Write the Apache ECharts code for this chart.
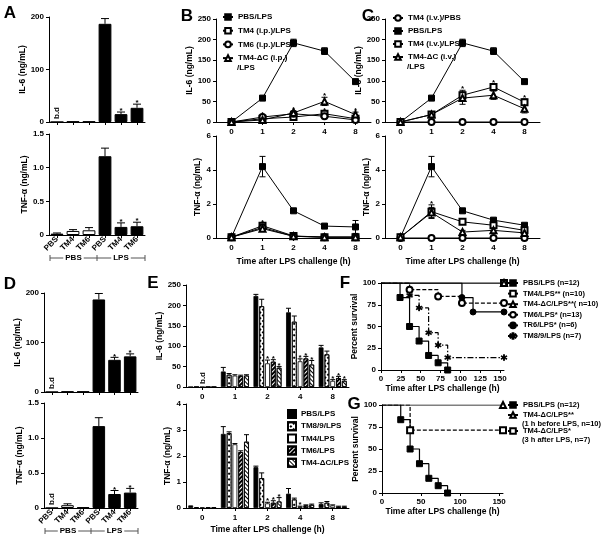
<!DOCTYPE html>
<html><head><meta charset="utf-8">
<script src="https://cdn.jsdelivr.net/npm/echarts@6/dist/echarts.min.js"></script>
<style>html,body{margin:0;padding:0;background:#fff}#c{width:603px;height:540px}</style>
</head><body><div id="c"></div>
<script>
// ================= DATA =================
const adCats = ['PBS','TM4','TM6','PBS','TM4','TM6'];
const adGroups = ['PBS','LPS'];
// Panel A
const aIL6    = [0, 1, 1, 187, 15, 27];
const aIL6Err = [0, 0, 0, 10, 4, 7];
const aIL6Sig = [0, 0, 0, 0, 1, 1];
const aIL6Bd  = [1, 0, 0, 0, 0, 0];
const aTNF    = [0.02, 0.06, 0.07, 1.17, 0.12, 0.13];
const aTNFErr = [0.01, 0.02, 0.04, 0.12, 0.06, 0.06];
const aTNFSig = [0, 0, 0, 0, 1, 1];
// Panel D
const dIL6    = [0, 1, 1, 187, 65, 72];
const dIL6Err = [0, 0, 0, 12, 5, 5];
const dIL6Sig = [0, 0, 0, 0, 1, 1];
const dIL6Bd  = [1, 0, 0, 0, 0, 0];
const dTNF    = [0, 0.04, 0.01, 1.17, 0.2, 0.22];
const dTNFErr = [0, 0.02, 0, 0.12, 0.05, 0.06];
const dTNFSig = [0, 0, 0, 0, 1, 1];
const dTNFBd  = [1, 0, 0, 0, 0, 0];

const timeCats = ['0','1','2','4','8'];
// Panel B
const bNames = ['PBS/LPS','TM4 (i.p.)/LPS','TM6 (i.p.)/LPS','TM4-ΔC (i.p.)\n/LPS'];
const bIL6PBS = [0, 58, 192, 172, 98];   const bIL6PBSErr = [0, 3, 9, 8, 5];
const bIL6TM4 = [0, 8, 12, 20, 8];       const bIL6TM4Err = [0, 2, 3, 4, 2];
const bIL6TM6 = [0, 12, 20, 14, 5];      const bIL6TM6Err = [0, 2, 4, 3, 2];
const bIL6DC  = [0, 5, 22, 50, 18];      const bIL6DCErr  = [0, 2, 4, 10, 6];
const bIL6Sig = [0, 1, 1, 1, 1];
const bTNFPBS = [0.05, 4.2, 1.6, 0.7, 0.65]; const bTNFPBSErr = [0, 0.6, 0.08, 0.1, 0.38];
const bTNFTM4 = [0.05, 0.72, 0.12, 0.05, 0.05]; const bTNFTM4Err = [0, 0.1, 0.03, 0, 0];
const bTNFTM6 = [0.05, 0.62, 0.1, 0.05, 0.05]; const bTNFTM6Err = [0, 0.08, 0.03, 0, 0];
const bTNFDC  = [0.05, 0.55, 0.1, 0.05, 0.05]; const bTNFDCErr  = [0, 0.08, 0.03, 0, 0];
const bTNFSig = [0, 1, 1, 0, 0];
// Panel C
const cNames = ['TM4 (i.v.)/PBS','PBS/LPS','TM4 (i.v.)/LPS','TM4-ΔC (i.v.)\n/LPS'];
const cIL6TPBS = [0, 0, 0, 0, 0];
const cIL6PBS = [0, 58, 192, 172, 98];   const cIL6PBSErr = [0, 3, 9, 8, 5];
const cIL6TM4 = [0, 18, 65, 85, 48];     const cIL6TM4Err = [0, 2, 12, 8, 8];
const cIL6DC  = [0, 18, 58, 65, 32];     const cIL6DCErr  = [0, 2, 15, 10, 10];
const cIL6Sig = [0, 0, 1, 1, 1];
const cTNFTPBS = [0, 0, 0, 0, 0];
const cTNFPBS = [0.05, 4.2, 1.6, 1.05, 0.75]; const cTNFPBSErr = [0, 0.6, 0.08, 0.1, 0.1];
const cTNFTM4 = [0.05, 1.55, 0.95, 0.75, 0.45]; const cTNFTM4Err = [0, 0.4, 0.1, 0.1, 0.1];
const cTNFDC  = [0.05, 1.5, 0.35, 0.45, 0.3]; const cTNFDCErr  = [0, 0.3, 0.1, 0.1, 0.1];
const cTNFSig = [0, 1, 0, 0, 0];
// Panel E
const eNames = ['PBS/LPS','TM8/9/LPS','TM4/LPS','TM6/LPS','TM4-ΔC/LPS'];
const eIL6 = [
  [0, 38, 223, 183, 97],
  [0, 30, 198, 160, 80],
  [0, 28, 58, 63, 15],
  [0, 27, 62, 70, 22],
  [0, 28, 47, 55, 15]];
const eIL6Err = [
  [0, 10, 4, 10, 5],
  [0, 3, 17, 14, 8],
  [0, 2, 8, 6, 3],
  [0, 2, 5, 5, 4],
  [0, 2, 3, 10, 3]];
const eIL6Sig = [
  [0,0,0,0,0],[0,0,0,0,0],[0,0,1,1,1],[0,0,1,1,1],[0,0,1,1,1]];
const eIL6Bd = [1, 0, 0, 0, 0];
const eTNF = [
  [0.1, 2.85, 1.57, 0.55, 0.15],
  [0.03, 2.88, 1.15, 0.33, 0.2],
  [0.02, 2.45, 0.18, 0.05, 0.1],
  [0.02, 2.15, 0.2, 0.1, 0.05],
  [0.02, 2.55, 0.25, 0.12, 0.05]];
const eTNFErr = [
  [0, 0.28, 0.04, 0.2, 0.05],
  [0, 0.05, 0.2, 0.05, 0.05],
  [0, 0.03, 0.04, 0.02, 0.02],
  [0, 0.05, 0.08, 0.02, 0.02],
  [0, 0.27, 0.15, 0.03, 0.02]];
const eTNFSig = [
  [0,0,0,0,0],[0,0,0,0,0],[0,0,1,1,0],[0,0,1,0,0],[0,0,1,0,0]];
// Panel F (Kaplan-Meier)
const fNames = ['PBS/LPS (n=12)','TM4/LPS** (n=10)','TM4-ΔC/LPS**( n=10)','TM6/LPS* (n=13)','TR6/LPS* (n=6)','TM8/9/LPS (n=7)'];
const fPBST = [0, 24, 36, 48, 60, 72, 84];  const fPBSS = [100, 83.3, 50, 33.3, 16.7, 8.3, 0];
const fTM4T = [0, 155];                      const fTM4S = [100, 100];
const fDCT  = [0, 155];                      const fDCS  = [100, 100];
const fTM6T = [0, 36, 72, 102, 155];         const fTM6S = [100, 92.3, 84.6, 76.9, 76.9];
const fTR6T = [0, 102, 116, 155];            const fTR6S = [100, 83.3, 66.7, 66.7];
const fTM89T = [0, 36, 48, 60, 72, 84, 155]; const fTM89S = [100, 85.7, 71.4, 42.9, 28.6, 14.3, 14.3];
const fTicks = [0, 25, 50, 75, 100, 125, 150];
// Panel G
const gNames = ['PBS/LPS (n=12)','TM4-ΔC/LPS**\n(1 h before LPS, n=10)','TM4-ΔC/LPS*\n(3 h after LPS, n=7)'];
const gPBST = [0, 24, 36, 48, 60, 72, 84];  const gPBSS = [100, 83.3, 50, 33.3, 16.7, 8.3, 0];
const gDC1T = [0, 155];                      const gDC1S = [100, 100];
const gDC3T = [0, 36, 155];                  const gDC3S = [100, 71.4, 71.4];
const gTicks = [0, 50, 100, 150];

// ================= STYLE / BUILD =================
const FF = '"Liberation Sans", Arial, Helvetica, sans-serif';
const T = s => ({fontFamily: FF, fontWeight: 'bold', color: '#000', fontSize: s});
const adFill = ['#000','#fff','#fff','#000','#000','#000'];
const ASTER = 'path://M-0.6,-5L0.6,-5L0.6,5L-0.6,5Z M-4.63,-1.98L-4.03,-3.02L4.63,1.98L4.03,3.02Z M-4.03,3.02L-4.63,1.98L4.03,-3.02L4.63,-1.98Z';

const grids = [], xAxis = [], yAxis = [], series = [], legend = [], graphic = [];
const axLine = {show: true, onZero: false, lineStyle: {color: '#000', width: 1}};
const axTick = {show: true, length: 3, lineStyle: {color: '#000', width: 1}};

function grid(left, top, width, height) {
  grids.push({left, top, width, height, containLabel: false, outerBoundsMode: 'none'});
  return grids.length - 1;
}
function catX(gi, cats, o = {}) {
  xAxis.push({type: 'category', gridIndex: gi, data: cats, boundaryGap: true,
    axisLine: axLine, axisTick: Object.assign({}, axTick, {alignWithLabel: true, interval: 0}),
    axisLabel: Object.assign(T(8), {show: o.show !== false, margin: o.margin ?? 5, rotate: o.rotate || 0, interval: 0}),
    splitLine: {show: false}, name: o.name || '', nameLocation: 'middle', nameGap: o.nameGap || 18,
    nameTextStyle: T(8.5)});
  return xAxis.length - 1;
}
function valX(gi, max, ticks, o = {}) {
  xAxis.push({type: 'value', gridIndex: gi, min: 0, max: max,
    axisLine: axLine, axisTick: Object.assign({}, axTick, {customValues: ticks}),
    axisLabel: Object.assign(T(8), {margin: 5, customValues: ticks}),
    splitLine: {show: false}, name: o.name || '', nameLocation: 'middle', nameGap: o.nameGap || 15,
    nameTextStyle: T(8.5)});
  return xAxis.length - 1;
}
function valY(gi, max, interval, o = {}) {
  yAxis.push({type: 'value', gridIndex: gi, min: 0, max: max, interval: interval,
    axisLine: axLine, axisTick: axTick,
    axisLabel: Object.assign(T(8), {margin: 5, formatter: o.fmt}),
    splitLine: {show: false}, name: o.name || '', nameLocation: 'middle', nameRotate: 90,
    nameGap: o.nameGap || 18, nameTextStyle: T(8.5)});
  return yAxis.length - 1;
}
function errBars(xi, yi, vals, errs, sigs, o = {}) {
  const data = vals.map((v, i) => [i, v, errs ? errs[i] : 0, sigs ? sigs[i] : 0]);
  series.push({type: 'custom', coordinateSystem: 'cartesian2d', xAxisIndex: xi, yAxisIndex: yi,
    silent: true, z: o.z || 3, animation: false, data: data,
    renderItem(params, api) {
      const i = api.value(0), v = api.value(1), e = api.value(2), s = api.value(3);
      let dx = 0;
      if (o.n) {
        const band = api.size([1, 0])[0];
        const usable = band * (1 - o.catGap);
        const bw = usable / (o.n + (o.n - 1) * o.gap);
        dx = -usable / 2 + o.k * bw * (1 + o.gap) + bw / 2;
      }
      const pt = api.coord([i, v + e]);
      const pb = api.coord([i, o.two ? Math.max(v - e, 0) : v]);
      const x = pt[0] + dx, cap = o.cap || 3, ch = [];
      const st = {stroke: '#000', lineWidth: 1};
      if (e > 0) {
        ch.push({type: 'line', shape: {x1: x, y1: pb[1], x2: x, y2: pt[1]}, style: st});
        ch.push({type: 'line', shape: {x1: x - cap, y1: pt[1], x2: x + cap, y2: pt[1]}, style: st});
        if (o.two) ch.push({type: 'line', shape: {x1: x - cap, y1: pb[1], x2: x + cap, y2: pb[1]}, style: st});
      }
      if (s) ch.push({type: 'text', x: x, y: pt[1] + 3 - (e > 0 ? 0 : (o.symOff || 0)),
        style: {text: '*', font: 'bold 8px ' + FF, fill: '#000', align: 'center', verticalAlign: 'bottom'}});
      return {type: 'group', children: ch};
    }});
}
function bdText(xi, yi, flags) {
  const data = [];
  flags.forEach((f, i) => { if (f) data.push([i, 0]); });
  series.push({type: 'custom', coordinateSystem: 'cartesian2d', xAxisIndex: xi, yAxisIndex: yi,
    silent: true, z: 4, animation: false, data: data,
    renderItem(params, api) {
      const p = api.coord([api.value(0), 0]);
      return {type: 'text', x: p[0], y: p[1] - 3, rotation: Math.PI / 2,
        style: {text: 'b.d', font: 'bold 8px ' + FF, fill: '#000', align: 'left', verticalAlign: 'middle'}};
    }});
}
function barSingle(xi, yi, vals, errs, sigs, bd) {
  series.push({type: 'bar', xAxisIndex: xi, yAxisIndex: yi, data: vals, barWidth: '80%', silent: true,
    animation: false, z: 2,
    itemStyle: {color: p => adFill[p.dataIndex], borderColor: '#000', borderWidth: 1}});
  errBars(xi, yi, vals, errs, sigs, {cap: 4, z: 3});
  if (bd) bdText(xi, yi, bd);
}
function lineS(name, xi, yi, vals, errs, sigs, sym) {
  series.push({type: 'line', name: name, xAxisIndex: xi, yAxisIndex: yi, data: vals, symbol: sym,
    symbolSize: 6, showSymbol: true, showAllSymbol: true, silent: true, animation: false, z: 3,
    lineStyle: {color: '#000', width: 1}, itemStyle: {color: '#000', borderColor: '#000', borderWidth: 1}});
  errBars(xi, yi, vals, errs, sigs, {two: true, cap: 3, z: 2, symOff: 3});
}
function kmS(name, xi, yi, ts, ss, sym, dash) {
  series.push({type: 'line', name: name, xAxisIndex: xi, yAxisIndex: yi, step: 'end',
    data: ts.map((t, i) => [t, ss[i]]), symbol: sym,
    symbolSize: (v, p) => (p.dataIndex === 0 ? 0 : 6), showSymbol: true, showAllSymbol: true,
    silent: true, animation: false, z: 3,
    lineStyle: {color: '#000', width: 1.2, type: dash || 'solid'},
    itemStyle: {color: '#000', borderColor: '#000', borderWidth: 1}});
}
// one legend component per item; the 2nd line of a two-line label is plain text below it
function legItem(name, label, left, yc, o = {}) {
  const fs = o.fs || 8, lh = o.lh || 10, w = o.w || 10, h = o.h || 7;
  const lines = label.split('\n');
  legend.push({show: true, data: [name], left: left, top: yc - lh / 2,
    orient: 'horizontal', padding: 0, itemGap: 0, itemWidth: w, itemHeight: h,
    icon: o.icon, selectedMode: false, formatter: () => lines[0],
    textStyle: Object.assign(T(fs), {lineHeight: lh})});
  for (let j = 1; j < lines.length; j++) {
    graphic.push({type: 'text', x: left + w + 5, y: yc + j * (o.lh2 || lh), silent: true,
      style: {text: lines[j], font: 'bold ' + fs + 'px ' + FF, fill: '#000', align: 'left', verticalAlign: 'middle'}});
  }
}
function bracket(x0, x1, x2, y) {
  const st = {stroke: '#555', lineWidth: 1};
  graphic.push({type: 'line', shape: {x1: x0, y1: y, x2: x2, y2: y}, style: st, silent: true});
  [x0, x1, x2].forEach(x => graphic.push({type: 'line', shape: {x1: x, y1: y - 3, x2: x, y2: y + 3}, style: st, silent: true}));
  [[(x0 + x1) / 2, adGroups[0]], [(x1 + x2) / 2, adGroups[1]]].forEach(([x, t]) =>
    graphic.push({type: 'text', x: x, y: y, z: 10, silent: true,
      style: {text: t, font: 'bold 8px ' + FF, fill: '#000', align: 'center', verticalAlign: 'middle',
        backgroundColor: '#fff', padding: [0, 2]}}));
}
function letter(t, x, y) {
  graphic.push({type: 'text', x: x, y: y, silent: true,
    style: {text: t, font: 'bold 17px ' + FF, fill: '#000', align: 'center', verticalAlign: 'middle'}});
}
const fmt1 = v => (v === 0 ? '0' : v.toFixed(1));

// ---- Panel A ----
let g, xi, yi;
g = grid(49, 17, 96, 105); xi = catX(g, adCats, {show: false});
yi = valY(g, 200, 100, {name: 'IL-6 (ng/mL)', nameGap: 14});
barSingle(xi, yi, aIL6, aIL6Err, aIL6Sig, aIL6Bd);
g = grid(49, 134, 96, 101); xi = catX(g, adCats, {rotate: 45, margin: 3});
yi = valY(g, 1.5, 0.5, {name: 'TNF-α (ng/mL)', nameGap: 14, fmt: fmt1});
barSingle(xi, yi, aTNF, aTNFErr, aTNFSig, null);
bracket(50, 97, 145, 258);
letter('A', 10, 13);

// ---- Panel D ----
g = grid(44, 293, 94, 99); xi = catX(g, adCats, {show: false});
yi = valY(g, 200, 100, {name: 'IL-6 (ng/mL)', nameGap: 14});
barSingle(xi, yi, dIL6, dIL6Err, dIL6Sig, dIL6Bd);
g = grid(44, 403, 94, 105); xi = catX(g, adCats, {rotate: 45, margin: 3});
yi = valY(g, 1.5, 0.5, {name: 'TNF-α (ng/mL)', nameGap: 14, fmt: fmt1});
barSingle(xi, yi, dTNF, dTNFErr, dTNFSig, dTNFBd);
bracket(45, 91, 138, 531);
letter('D', 10, 284);

// ---- Panel B ----
const symB = ['rect', 'emptyRect', 'emptyCircle', 'emptyTriangle'];
g = grid(216, 19, 155, 103); xi = catX(g, timeCats, {margin: 6});
yi = valY(g, 250, 50, {name: 'IL-6 (ng/mL)', nameGap: 15});
[[bIL6PBS, bIL6PBSErr, null], [bIL6TM4, bIL6TM4Err, bIL6Sig], [bIL6TM6, bIL6TM6Err, bIL6Sig], [bIL6DC, bIL6DCErr, bIL6Sig]]
  .forEach((d, k) => lineS('B|' + k, xi, yi, d[0], d[1], d[2], symB[k]));
g = grid(216, 136, 155, 102);
xi = catX(g, timeCats, {margin: 6, name: 'Time after LPS challenge (h)', nameGap: 19});
yi = valY(g, 6, 2, {name: 'TNF-α (ng/mL)', nameGap: 9});
[[bTNFPBS, bTNFPBSErr, null], [bTNFTM4, bTNFTM4Err, bTNFSig], [bTNFTM6, bTNFTM6Err, null], [bTNFDC, bTNFDCErr, bTNFSig]]
  .forEach((d, k) => lineS('B2|' + k, xi, yi, d[0], d[1], d[2], symB[k]));
bNames.forEach((n, k) => legItem('B|' + k, n, 222, 17 + 13.7 * k));
letter('B', 187, 16);

// ---- Panel C ----
const symC = ['emptyCircle', 'rect', 'emptyRect', 'emptyTriangle'];
g = grid(385, 19, 155, 103); xi = catX(g, timeCats, {margin: 6});
yi = valY(g, 250, 50, {name: 'IL-6 (ng/mL)', nameGap: 15});
[[cIL6TPBS, null, null], [cIL6PBS, cIL6PBSErr, null], [cIL6TM4, cIL6TM4Err, cIL6Sig], [cIL6DC, cIL6DCErr, null]]
  .forEach((d, k) => lineS('C|' + k, xi, yi, d[0], d[1], d[2], symC[k]));
g = grid(385, 136, 155, 102);
xi = catX(g, timeCats, {margin: 6, name: 'Time after LPS challenge (h)', nameGap: 19});
yi = valY(g, 6, 2, {name: 'TNF-α (ng/mL)', nameGap: 9});
[[cTNFTPBS, null, null], [cTNFPBS, cTNFPBSErr, null], [cTNFTM4, cTNFTM4Err, cTNFSig], [cTNFDC, cTNFDCErr, null]]
  .forEach((d, k) => lineS('C2|' + k, xi, yi, d[0], d[1], d[2], symC[k]));
cNames.forEach((n, k) => legItem('C|' + k, n, 392, 18 + 13 * k));
letter('C', 368, 16);

// ---- Panel E ----
const eStyles = [
  {color: '#000'},
  {color: '#fff', decal: {symbol: 'rect', symbolSize: 1, dashArrayX: [1.4, 1.4], dashArrayY: [1.4, 1.4], rotation: Math.PI / 4, color: '#000'}},
  {color: '#fff'},
  {color: '#fff', decal: {symbol: 'rect', symbolSize: 1, dashArrayX: [1, 0], dashArrayY: [1.4, 1], rotation: -Math.PI / 4, color: '#000'}},
  {color: '#fff', decal: {symbol: 'rect', symbolSize: 1, dashArrayX: [1, 0], dashArrayY: [1, 2], rotation: Math.PI / 4, color: '#000'}}
];
const E_CATGAP = 0.14, E_GAP = 0.2;
function panelE(top, height, vals, errs, sigs, max, interval, o) {
  const gg = grid(186, top, 163, height);
  const x = catX(gg, timeCats, {margin: 6, name: o.xname, nameGap: 17});
  const y = valY(gg, max, interval, {name: o.yname, nameGap: o.ygap});
  vals.forEach((v, k) => {
    series.push({type: 'bar', name: o.prefix + k, xAxisIndex: x, yAxisIndex: y, data: v, silent: true, animation: false,
      barCategoryGap: (E_CATGAP * 100) + '%', barGap: (E_GAP * 100) + '%', z: 2,
      itemStyle: Object.assign({borderColor: '#000', borderWidth: 0.8}, eStyles[k])});
    errBars(x, y, v, errs[k], sigs[k], {n: vals.length, k: k, catGap: E_CATGAP, gap: E_GAP, cap: 2.5, z: 3});
  });
  if (o.bd) bdText(x, y, o.bd);
}
panelE(285, 102, eIL6, eIL6Err, eIL6Sig, 250, 50, {yname: 'IL-6 (ng/mL)', ygap: 14, prefix: 'E1|', bd: eIL6Bd});
panelE(404, 104, eTNF, eTNFErr, eTNFSig, 4, 1, {yname: 'TNF-α (ng/mL)', ygap: 10, xname: 'Time after LPS challenge (h)', prefix: 'E2|'});
eNames.forEach((n, k) => legItem('E2|' + k, n, 287, 414 + 12.2 * k, {icon: 'rect', w: 8, h: 8}));
letter('E', 153, 283);

// ---- Panel F ----
g = grid(381, 283, 123, 87);
xi = valX(g, 155, fTicks, {name: 'Time after LPS challenge (h)', nameGap: 14});
yi = valY(g, 100, 25, {name: 'Percent survival', nameGap: 11});
kmS('F|0', xi, yi, fPBST, fPBSS, 'rect');
kmS('F|1', xi, yi, fTM4T, fTM4S, 'emptyRect');
kmS('F|2', xi, yi, fDCT, fDCS, 'emptyTriangle');
kmS('F|3', xi, yi, fTM6T, fTM6S, 'emptyCircle', [4, 2]);
kmS('F|4', xi, yi, fTR6T, fTR6S, 'circle');
kmS('F|5', xi, yi, fTM89T, fTM89S, ASTER, [6, 2, 1.5, 2]);
fNames.forEach((n, k) => legItem('F|' + k, n, 507, 283 + 10.6 * k, {fs: 7.5, lh: 9}));
letter('F', 345, 283);

// ---- Panel G ----
g = grid(382, 405, 121, 88);
xi = valX(g, 155, gTicks, {name: 'Time after LPS challenge (h)', nameGap: 14});
yi = valY(g, 100, 25, {name: 'Percent survival', nameGap: 11});
kmS('G|0', xi, yi, gPBST, gPBSS, 'rect');
kmS('G|1', xi, yi, gDC1T, gDC1S, 'emptyTriangle');
kmS('G|2', xi, yi, gDC3T, gDC3S, 'emptyRect', [4, 2]);
legItem('G|0', gNames[0], 507, 405, {fs: 7.5, lh: 9});
legItem('G|1', gNames[1], 507, 415, {fs: 7.5, lh: 9, lh2: 8.5});
legItem('G|2', gNames[2], 507, 431, {fs: 7.5, lh: 9, lh2: 8.5});
letter('G', 354, 404);

const chart = echarts.init(document.getElementById('c'), null, {renderer: 'canvas'});
chart.setOption({animation: false, backgroundColor: '#fff', grid: grids, xAxis: xAxis, yAxis: yAxis,
  series: series, legend: legend, graphic: graphic});
</script></body></html>
